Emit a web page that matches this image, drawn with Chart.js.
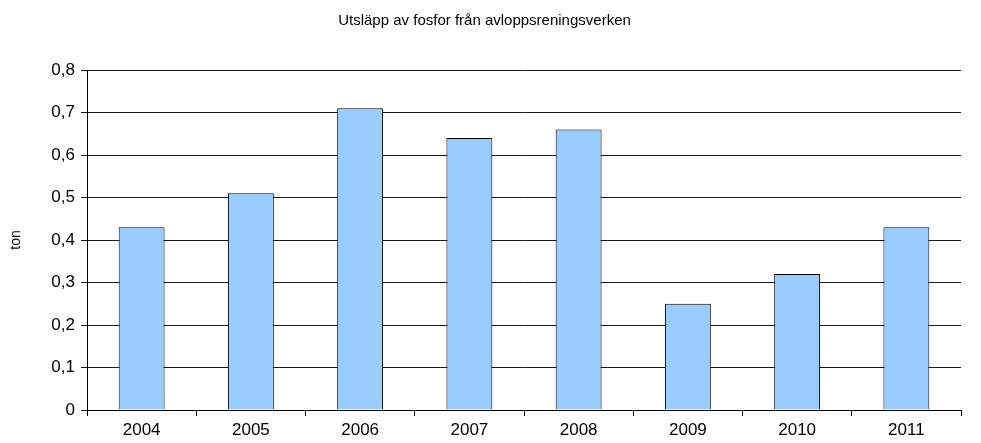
<!DOCTYPE html>
<html>
<head>
<meta charset="utf-8">
<script src="https://cdn.jsdelivr.net/npm/chart.js@4"></script>
<style>
  html, body { margin: 0; padding: 0; background: #fff; }
  #wrap { width: 981px; height: 443px; }
</style>
</head>
<body>
<div id="wrap"><canvas id="chart" width="981" height="443"></canvas></div>
<script>
// data
const years = ['2004', '2005', '2006', '2007', '2008', '2009', '2010', '2011'];
const fosfor = [0.43, 0.51, 0.71, 0.64, 0.66, 0.25, 0.32, 0.43];
const yTicks = [0, 0.1, 0.2, 0.3, 0.4, 0.5, 0.6, 0.7, 0.8];

const fontFamily = "'Liberation Sans', Arial, sans-serif";

const ctx = document.getElementById('chart').getContext('2d');
new Chart(ctx, {
    type: 'bar',
    data: {
        labels: years,
        datasets: [{
            label: 'ton',
            data: fosfor,
            backgroundColor: '#99ccff',
            borderColor: '#000000',
            borderWidth: 1,
            barPercentage: 0.42,
            categoryPercentage: 1.0
        }]
    },
    options: {
        responsive: false,
        animation: false,
        layout: { padding: { left: 8, right: 20, top: 0, bottom: 2 } },
        plugins: {
            legend: { display: false },
            tooltip: { enabled: false },
            title: {
                display: true,
                text: 'Utsläpp av fosfor från avloppsreningsverken',
                color: '#000',
                font: { family: fontFamily, size: 15, weight: 'normal' },
                padding: { top: 12, bottom: 40 }
            }
        },
        scales: {
            x: {
                offset: true,
                grid: {
                    offset: true,
                    drawOnChartArea: false,
                    drawTicks: true,
                    tickLength: 6,
                    color: '#000'
                },
                border: { display: true, color: '#000', width: 1 },
                ticks: {
                    color: '#000',
                    padding: 4,
                    font: { family: fontFamily, size: 17 },
                    maxRotation: 0
                },
                afterFit: function (scale) { scale.height = 31; }
            },
            y: {
                min: 0,
                max: 0.8,
                afterBuildTicks: function (scale) {
                    scale.ticks = yTicks.map(v => ({ value: v }));
                },
                grid: {
                    color: '#1a1a1a',
                    lineWidth: 1,
                    tickLength: 6
                },
                border: { display: true, color: '#000', width: 1 },
                ticks: {
                    color: '#000',
                    padding: 6,
                    font: { family: fontFamily, size: 17 },
                    callback: function (v) { return Number(v).toFixed(1).replace('.', ',').replace(/^0,0$/, '0'); }
                },
                title: {
                    display: true,
                    text: 'ton',
                    color: '#000',
                    font: { family: fontFamily, size: 14 },
                    padding: { top: 0, bottom: 20 }
                },
                afterFit: function (scale) { scale.width = 79; }
            }
        }
    }
});
</script>
</body>
</html>
